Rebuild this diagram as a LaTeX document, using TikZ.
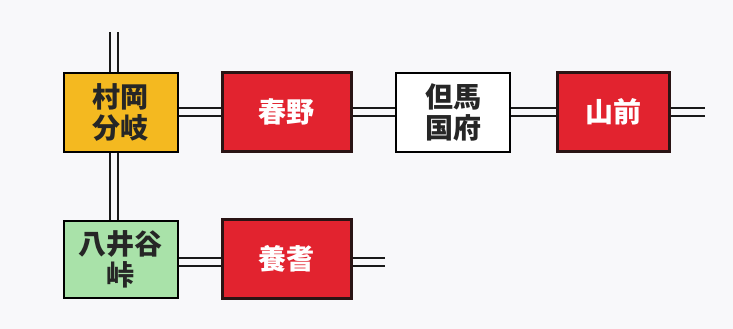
\documentclass[tikz,border=0pt]{standalone}
\usepackage{fontspec}
\newfontfamily\jp{Noto Sans CJK JP}
\definecolor{bg}{HTML}{F8F8FA}
\definecolor{yel}{HTML}{F4B920}
\definecolor{rd}{HTML}{E2232F}
\definecolor{grn}{HTML}{A9E2A9}
\definecolor{dk}{HTML}{2A1414}
\tikzset{
  stn/.style={draw=black, line width=2pt, minimum width=114pt, minimum height=79pt, inner sep=0pt,
    font=\jp\fontsize{28}{31}\selectfont\bfseries, align=center, text=black!85},
  redstn/.style={stn, fill=rd, draw=dk, line width=3pt, minimum width=129pt, minimum height=79pt, text=white},
  track/.style={draw=black!90, line width=2.3pt, double=bg, double distance=5.5pt},
}
\begin{document}
\begin{tikzpicture}[x=1pt,y=-1pt]
\fill[bg] (0,0) rectangle (733,329);
\useasboundingbox (0,0) rectangle (733,329);
\node[stn, fill=yel] (mura) at (120.5,112) {村岡\\分岐};
\node[redstn] (haru) at (286.5,112) {春野};
\node[stn, fill=white] (taji) at (453,112) {但馬\\国府};
\node[redstn, minimum width=112pt] (yama) at (613,112) {山前};
\node[stn, fill=grn, minimum height=77pt] (yai) at (120.5,259) {八井谷\\峠};
\node[redstn] (yoki) at (286.5,259) {養耆};
\coordinate (top) at (114,32);
\coordinate (east1) at (705,112);
\coordinate (east2) at (385,262);
\draw[track] ([xshift=-6.5pt]mura.north) -- (top);
\draw[track] ([xshift=-6.5pt]mura.south) -- ([xshift=-6.5pt]yai.north);
\draw[track] (mura) -- (haru);
\draw[track] (haru) -- (taji);
\draw[track] (taji) -- (yama);
\draw[track] (yama.east) -- (east1);
\draw[track] ([yshift=-3pt]yai.east) -- ([yshift=-3pt]yoki.west);
\draw[track] ([yshift=-3pt]yoki.east) -- (east2);
\end{tikzpicture}
\end{document}
